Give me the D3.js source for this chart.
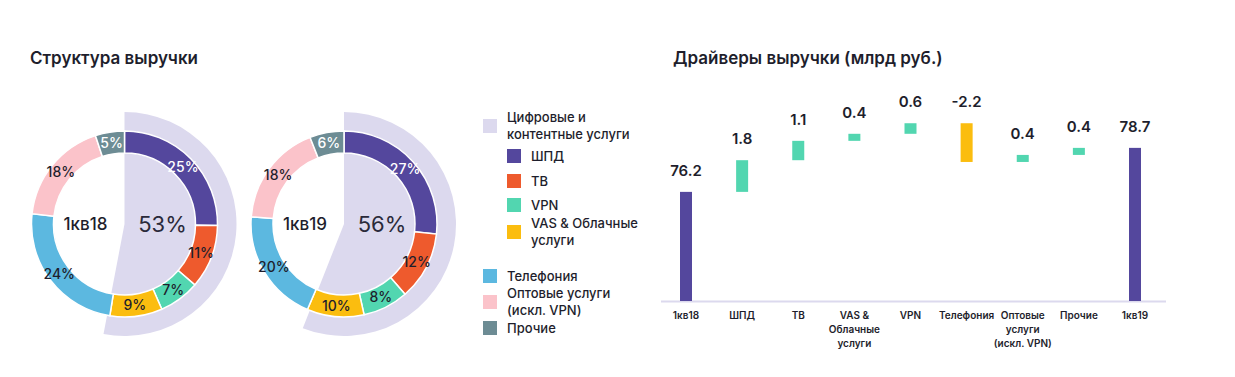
<!DOCTYPE html>
<html>
<head>
<meta charset="utf-8">
<script src="https://cdn.jsdelivr.net/npm/d3@7"></script>
<style>
  body { margin: 0; background: #fff; }
  svg { font-family: Inter, "Open Sans", sans-serif; }
</style>
</head>
<body>
<div id="chart"></div>
<script>
// donut data
var quarters = ["1кв18", "1кв19"];
var segNames = ["ШПД", "ТВ", "VPN", "VAS & Облачные услуги", "Телефония", "Оптовые услуги (искл. VPN)", "Прочие"];
var share18 = [25, 11, 7, 9, 24, 18, 5];
var share19 = [27, 12, 8, 10, 20, 18, 6];
var digitalShare = [53, 56];
var segColors = ["#54479d", "#ee5a2d", "#52d6b0", "#fbbd0f", "#5cb8e0", "#fbc3ca", "#6d8c94"];
var whiteLabel = [true, false, false, false, false, false, true];

// legend
var legendItems = [
  { name: ["Цифровые и", "контентные услуги"], color: "#dcd9ee", indent: 0, y: 126 },
  { name: ["ШПД"], color: "#54479d", indent: 1, y: 156 },
  { name: ["ТВ"], color: "#ee5a2d", indent: 1, y: 181 },
  { name: ["VPN"], color: "#52d6b0", indent: 1, y: 205 },
  { name: ["VAS & Облачные", "услуги"], color: "#fbbd0f", indent: 1, y: 232 },
  { name: ["Телефония"], color: "#5cb8e0", indent: 0, y: 276 },
  { name: ["Оптовые услуги", "(искл. VPN)"], color: "#fbc3ca", indent: 0, y: 302 },
  { name: ["Прочие"], color: "#6d8c94", indent: 0, y: 328 }
];

// waterfall data
var driverCats = ["1кв18", "ШПД", "ТВ", "VAS & Облачные услуги", "VPN", "Телефония", "Оптовые услуги (искл. VPN)", "Прочие", "1кв19"];
var driverLabels = [["1кв18"], ["ШПД"], ["ТВ"], ["VAS &", "Облачные", "услуги"], ["VPN"], ["Телефония"], ["Оптовые", "услуги", "(искл. VPN)"], ["Прочие"], ["1кв19"]];
var driverVals = [76.2, 1.8, 1.1, 0.4, 0.6, -2.2, 0.4, 0.4, 78.7];
var driverText = ["76.2", "1.8", "1.1", "0.4", "0.6", "-2.2", "0.4", "0.4", "78.7"];

var W = 1235, H = 377;
var dark = "#1e1e2c";
var svg = d3.select("#chart").append("svg")
  .attr("width", W).attr("height", H);

// titles
svg.append("text").attr("x", 30).attr("y", 64)
  .attr("font-size", 17).attr("font-weight", 600).attr("fill", dark)
  .text("Структура выручки");
svg.append("text").attr("x", 673).attr("y", 64)
  .attr("font-size", 17).attr("font-weight", 600).attr("fill", dark)
  .text("Драйверы выручки (млрд руб.)");

// donuts
var rInner = 71, rOuter = 93, rBack = 112;
var centers = [124.5, 344];
var pie = d3.pie().sort(null).value(d => d);
var ringArc = d3.arc().innerRadius(rInner).outerRadius(rOuter);
var labelArc = d3.arc().innerRadius(82).outerRadius(82);
var backArc = d3.arc().innerRadius(0).outerRadius(rBack);

[share18, share19].forEach(function (shares, qi) {
  var g = svg.append("g").attr("transform", "translate(" + centers[qi] + ",224)");
  g.append("path")
    .attr("d", backArc({ startAngle: 0, endAngle: digitalShare[qi] / 100 * 2 * Math.PI }))
    .attr("fill", "#dcd9ee");
  var arcs = pie(shares);
  g.selectAll("path.seg").data(arcs).enter().append("path")
    .attr("class", "seg")
    .attr("d", ringArc)
    .attr("fill", (d, i) => segColors[i])
    .attr("stroke", "#fff").attr("stroke-width", 1.5);
  g.selectAll("text.pct").data(arcs).enter().append("text")
    .attr("class", "pct")
    .attr("transform", d => "translate(" + labelArc.centroid(d) + ")")
    .attr("text-anchor", "middle").attr("dy", "0.36em")
    .attr("font-size", 14).attr("font-weight", 500)
    .attr("fill", (d, i) => whiteLabel[i] ? "#fff" : dark)
    .text(d => d.data + "%");
  g.append("text").attr("x", -39).attr("dy", "0.36em")
    .attr("text-anchor", "middle").attr("font-size", 17).attr("font-weight", 500)
    .attr("fill", dark).text(quarters[qi]);
  g.append("text").attr("x", 38).attr("dy", "0.36em")
    .attr("text-anchor", "middle").attr("font-size", 22)
    .attr("fill", "#2a2a3a").text(digitalShare[qi] + "%");
});

// legend
var lg = svg.append("g");
legendItems.forEach(function (d) {
  var x0 = d.indent ? 507 : 483;
  lg.append("rect").attr("x", x0).attr("y", d.y - 7)
    .attr("width", 14).attr("height", 14).attr("fill", d.color);
  var n = d.name.length;
  d.name.forEach(function (line, li) {
    lg.append("text").attr("x", x0 + 24)
      .attr("y", d.y + (li - (n - 1) / 2) * 16.5)
      .attr("dy", "0.35em")
      .attr("font-size", 13).attr("font-weight", 500).attr("fill", dark)
      .text(line);
  });
});

// waterfall
var x = d3.scalePoint().domain(driverCats).range([686, 1135]);
var y = d3.scaleLinear().domain([70, 81]).range([301, 107.4]);
var barW = 12;

var steps = [];
var run = 0;
driverVals.forEach(function (v, i) {
  if (i === 0 || i === driverVals.length - 1) {
    steps.push({ cat: driverCats[i], lo: y.domain()[0], hi: v, kind: "total", text: driverText[i] });
    run = v;
  } else {
    steps.push({ cat: driverCats[i], lo: Math.min(run, run + v), hi: Math.max(run, run + v), kind: v < 0 ? "neg" : "pos", text: driverText[i] });
    run += v;
  }
});
var kindColor = { total: "#54479d", pos: "#52d6b0", neg: "#fbbd0f" };

svg.append("line").attr("x1", 661).attr("x2", 1166)
  .attr("y1", y(70) + 0.5).attr("y2", y(70) + 0.5)
  .attr("stroke", "#dcd9ee").attr("stroke-width", 2);

svg.selectAll("rect.bar").data(steps).enter().append("rect")
  .attr("class", "bar")
  .attr("x", d => x(d.cat) - barW / 2)
  .attr("width", barW)
  .attr("y", d => y(d.hi))
  .attr("height", d => y(d.lo) - y(d.hi))
  .attr("fill", d => kindColor[d.kind]);

svg.selectAll("text.val").data(steps).enter().append("text")
  .attr("class", "val")
  .attr("x", d => x(d.cat))
  .attr("y", d => y(d.hi) - 16)
  .attr("text-anchor", "middle").attr("font-size", 15).attr("font-weight", 600)
  .attr("fill", dark)
  .text(d => d.text);

driverLabels.forEach(function (lines, i) {
  lines.forEach(function (line, li) {
    svg.append("text")
      .attr("x", x(driverCats[i]))
      .attr("y", 315 + li * 14).attr("dy", "0.35em")
      .attr("text-anchor", "middle").attr("font-size", 10).attr("font-weight", 600)
      .attr("fill", dark)
      .text(line);
  });
});
</script>
</body>
</html>
